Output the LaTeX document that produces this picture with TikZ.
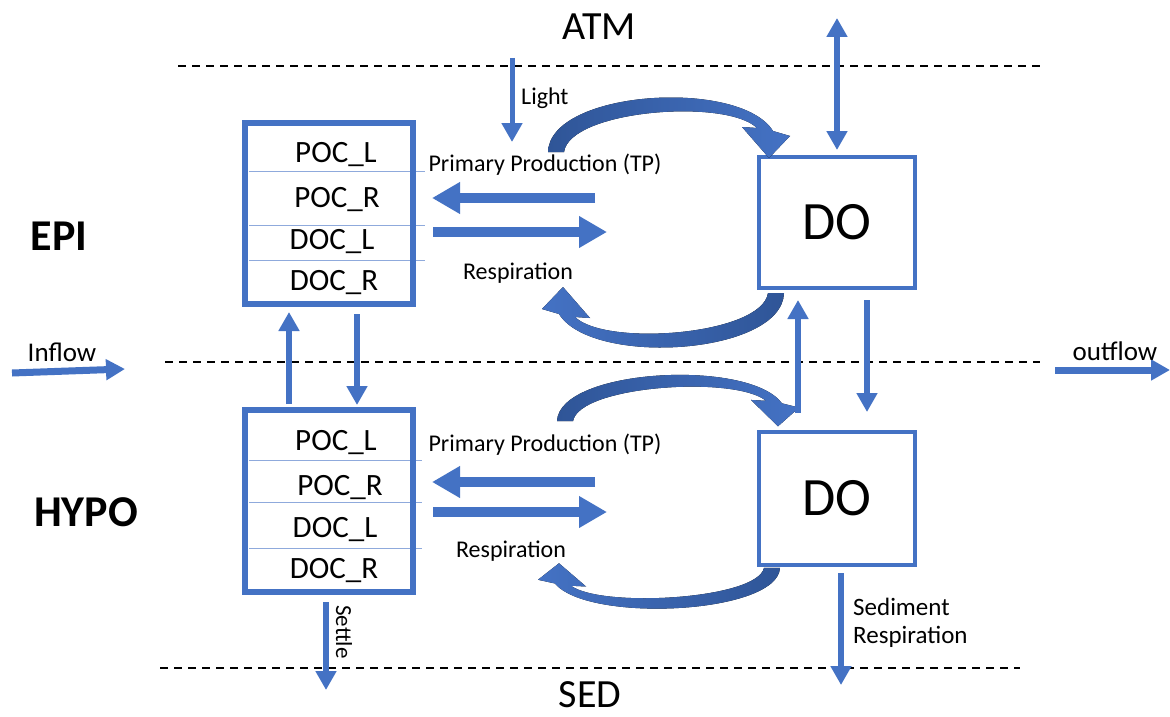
\documentclass[tikz,border=0pt]{standalone}
\usepackage{fontspec}
\setmainfont{Carlito}
\usetikzlibrary{arrows.meta}

\definecolor{ocean}{HTML}{4472C4}
\definecolor{deep}{HTML}{2F5597}
\definecolor{rule}{HTML}{8FAADC}
\newcommand\sz[1]{\fontsize{#1}{#1}\selectfont}

\tikzset{
  pool/.style={draw=ocean, line width=6pt, minimum width=168pt, minimum height=181pt, inner sep=0pt},
  tank/.style={draw=ocean, line width=4pt, minimum width=156pt, minimum height=131pt, inner sep=0pt, font=\sz{54}},
  cell/.style={anchor=base, inner sep=0pt, font=\sz{31}},
  lbl/.style={anchor=base, inner sep=0pt, font=\sz{24}},
  sep/.style={draw=rule, line width=0.8pt},
  level/.style={draw=black, line width=1.8pt, dash pattern=on 8pt off 6pt},
  flow/.style={draw=ocean, line width=6pt, -{Triangle[length=19pt,width=20pt]}},
  dflow/.style={draw=ocean, line width=6pt, {Triangle[length=19pt,width=20pt]}-{Triangle[length=19pt,width=20pt]}},
  wide/.style={draw=ocean, line width=10pt, -{Triangle[length=28pt,width=30pt]}},
  bendfill/.style={left color=deep, right color=ocean},
}
% tapered bent arrow, drawn once and moved round
\newcommand\bendarrow[1]{\fill[bendfill,#1] (548,152) .. controls (550,90) and (740,78) .. (773,131)
  -- (790,136) -- (769,158) -- (742,127) -- (757,128) .. controls (726,98) and (570,110) .. (564,152) -- cycle;}

\begin{document}
\begin{tikzpicture}[x=1pt, y=-1pt]
  \path[fill=white] (0,0) rectangle (1170,717);
  \useasboundingbox (0,0) rectangle (1170,717);

  % layer boundaries
  \draw[level] (178,66) -- (1040,66);
  \draw[level] (165,362) -- (1040,362);
  \draw[level] (160,668) -- (1020,668);
  \node[lbl, font=\sz{40}] (atm) at (599,40) {ATM};
  \node[lbl, font=\sz{40}] (sed) at (590,707) {SED};
  \node[lbl, font=\sz{44}\bfseries] (epi) at (59,250) {EPI};
  \node[lbl, font=\sz{44}\bfseries] (hypo) at (86,526) {HYPO};

  % carbon pools
  \foreach \y in {171,225,260} {\draw[sep] (249,\y) -- (425,\y);}
  \foreach \y in {460,502,548} {\draw[sep] (249,\y) -- (422,\y);}
  \node[pool] (epibox) at (329,213.5) {};
  \node[pool, minimum height=182pt] (hypobox) at (329,501) {};
  \def\epirows{{POC\_L}/336/162, {POC\_R}/337/207, {DOC\_L}/332/249, {DOC\_R}/334/290}
  \def\hyporows{{POC\_L}/336/450, {POC\_R}/340/495, {DOC\_L}/335/537, {DOC\_R}/334/578}
  \foreach \t/\x/\y [count=\i] in \epirows {\node[cell] (e\i) at (\x,\y) {\t};}
  \foreach \t/\x/\y [count=\i] in \hyporows {\node[cell] (h\i) at (\x,\y) {\t};}

  % oxygen
  \node[tank] (doepi) at (837,222.5) {DO};
  \node[tank, minimum height=133pt] (dohypo) at (837,498.5) {DO};

  % production / respiration
  \coordinate (tp1) at (595,198);
  \coordinate (rs1) at (607,232);
  \coordinate (tp2) at (595,482);
  \coordinate (rs2) at (607,512);
  \draw[wide, shorten >=16pt] (tp1) -- (epibox.east |- tp1);
  \draw[wide, shorten <=17pt] (epibox.east |- rs1) -- (rs1);
  \draw[wide, shorten >=16pt] (tp2) -- (hypobox.east |- tp2);
  \draw[wide, shorten <=17pt] (hypobox.east |- rs2) -- (rs2);
  \node[lbl] (pp1) at (545,171) {Primary Production (TP)};
  \node[lbl] (re1) at (518,279) {Respiration};
  \node[lbl] (pp2) at (545,451) {Primary Production (TP)};
  \node[lbl] (re2) at (511,557) {Respiration};

  \bendarrow{}
  \bendarrow{rotate around={180:(666,222.5)}, left color=ocean, right color=deep}
  \bendarrow{shift={(9,292)}, yscale=0.85}
  \bendarrow{shift={(-4,348)}, yscale=0.75, rotate around={180:(666,222.5)}, left color=ocean, right color=deep}

  % exchange between layers
  \draw[flow, shorten <=3pt, shorten >=5pt] ([xshift=-40pt]hypobox.north) -- ([xshift=-40pt]epibox.south);
  \draw[flow, shorten <=7pt, shorten >=2pt] ([xshift=28pt]epibox.south) -- ([xshift=28pt]hypobox.north);
  \draw[flow, shorten <=17pt, shorten >=10pt] ([xshift=-39pt]dohypo.north) -- ([xshift=-39pt]doepi.south);
  \draw[flow, shorten <=10pt, shorten >=18pt] ([xshift=30pt]doepi.south) -- ([xshift=30pt]dohypo.north);

  % boundary fluxes
  \coordinate (air) at (837,18);
  \draw[dflow, shorten <=5pt] (doepi.north) -- (air);
  \coordinate (sun) at (512,58);
  \coordinate (sunend) at (512,142);
  \draw[flow, line width=5pt] (sun) -- (sunend);
  \node[lbl, anchor=base west] (light) at (521,104) {Light};
  \coordinate (sink) at (326,690);
  \draw[flow, shorten <=7pt] ([xshift=-3pt]hypobox.south) -- (sink);
  \node[rotate=-90, inner sep=0pt, font=\sz{23}] (settle) at (344,632) {Settle};
  \coordinate (sedout) at (841,685);
  \draw[flow, shorten <=6pt] ([xshift=4pt]dohypo.south) -- (sedout);
  \node[lbl, anchor=base west, font=\sz{25}] (sed1) at (853,615) {Sediment};
  \node[lbl, anchor=base west, font=\sz{25}] (sed2) at (853,643) {Respiration};
  \coordinate (in0) at (12,373);
  \coordinate (in1) at (125,369);
  \draw[flow, line width=7pt] (in0) -- (in1);
  \node[lbl, font=\sz{27}] (inlbl) at (62,361) {Inflow};
  \coordinate (out0) at (1055,370);
  \coordinate (out1) at (1170,370);
  \draw[flow, line width=7pt] (out0) -- (out1);
  \node[lbl, font=\sz{27}] (outlbl) at (1115,360) {outflow};
\end{tikzpicture}
\end{document}
